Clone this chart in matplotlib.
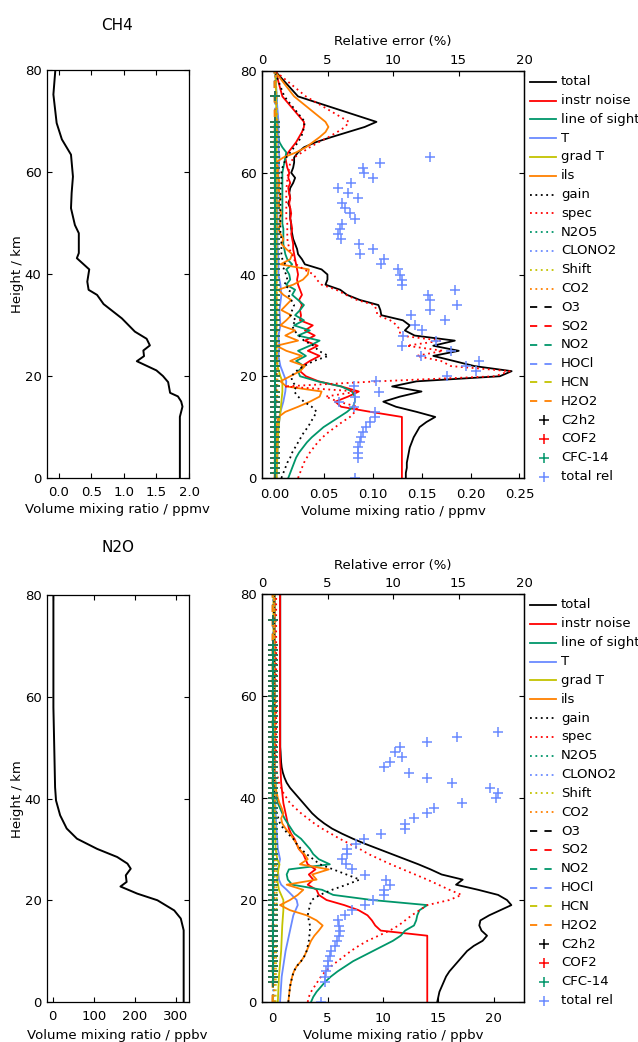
import matplotlib
matplotlib.use("Agg")
import matplotlib.pyplot as plt
from matplotlib.lines import Line2D

# ---------------- data ----------------
heights = list(range(0, 71)) + [75, 80]

# CH4 a-priori / retrieved profile (ppmv)
ch4_prof_h = [0, 12, 14, 15, 16, 16.7, 18.8, 20, 21.1, 22.9, 23.9, 25, 26, 27.3, 28.7, 30, 31.3,
              32.6, 34.1, 35.9, 36.9, 38.5, 40.9, 43.1, 44.1, 48, 49.6, 52.9, 55.9, 59.1, 63.4,
              66.4, 69.6, 75.2, 80]
ch4_prof_v = [1.86, 1.86, 1.90, 1.88, 1.83, 1.71, 1.68, 1.60, 1.50, 1.20, 1.31, 1.30, 1.40, 1.35,
              1.17, 1.07, 0.97, 0.84, 0.69, 0.59, 0.46, 0.44, 0.47, 0.28, 0.31, 0.31, 0.25, 0.19,
              0.20, 0.22, 0.19, 0.05, -0.03, -0.08, -0.05]

# N2O profile (ppbv)
n2o_prof_h = [0, 14.1, 16.4, 18, 20, 21.3, 22.7, 23.6, 24.9, 26.2, 27.2, 28.5, 30.1, 32.1, 34.1,
              36.7, 39.6, 42.2, 48.8, 57.9, 80]
n2o_prof_v = [319, 319, 312, 296, 255, 206, 165, 180, 178, 190, 182, 157, 108, 59, 34, 18, 8,
              5.7, 4, 1.6, 1.6]

# ---- CH4 error budget (ppmv) on heights grid ----
ch4_total = [0.134, 0.134, 0.135, 0.135, 0.136, 0.137, 0.138, 0.140, 0.142, 0.145, 0.148, 0.155,
             0.164, 0.145, 0.124, 0.111, 0.128, 0.150, 0.120, 0.145, 0.230, 0.242, 0.204, 0.183,
             0.162, 0.188, 0.162, 0.184, 0.143, 0.133, 0.138, 0.131, 0.109, 0.108, 0.106, 0.087,
             0.074, 0.067, 0.052, 0.054, 0.054, 0.048, 0.031, 0.028, 0.024, 0.023, 0.021, 0.019,
             0.018, 0.017, 0.017, 0.016, 0.016, 0.016, 0.014, 0.016, 0.015, 0.016, 0.019, 0.021,
             0.017, 0.019, 0.020, 0.020, 0.024, 0.030, 0.042, 0.058, 0.075, 0.092, 0.104, 0.024,
             0.0005]
ch4_noise = [0.130, 0.130, 0.130, 0.130, 0.130, 0.130, 0.130, 0.130, 0.130, 0.130, 0.130, 0.130,
             0.130, 0.098, 0.068, 0.062, 0.075, 0.086, 0.068, 0.045, 0.032, 0.026, 0.028, 0.036,
             0.046, 0.034, 0.044, 0.031, 0.041, 0.031, 0.039, 0.026, 0.027, 0.026, 0.028, 0.025,
             0.028, 0.026, 0.024, 0.023, 0.024, 0.023, 0.022, 0.021, 0.020, 0.019, 0.019, 0.018,
             0.017, 0.018, 0.017, 0.016, 0.017, 0.016, 0.015, 0.016, 0.015, 0.014, 0.016, 0.014,
             0.015, 0.013, 0.012, 0.011, 0.014, 0.018, 0.022, 0.025, 0.028, 0.030, 0.030, 0.008,
             0.001]
ch4_los = [0.014, 0.016, 0.018, 0.020, 0.022, 0.025, 0.029, 0.033, 0.038, 0.044, 0.050, 0.058,
           0.066, 0.074, 0.080, 0.082, 0.082, 0.079, 0.068, 0.044, 0.026, 0.024, 0.030, 0.022,
           0.032, 0.024, 0.036, 0.046, 0.024, 0.036, 0.020, 0.030, 0.021, 0.026, 0.030, 0.024,
           0.018, 0.021, 0.012, 0.016, 0.015, 0.012, 0.018, 0.013, 0.011, 0.010, 0.009, 0.009,
           0.009, 0.009, 0.008, 0.008, 0.008, 0.008, 0.008, 0.008, 0.008, 0.008, 0.008, 0.008,
           0.008, 0.009, 0.010, 0.011, 0.012, 0.008, 0.005, 0.004, 0.003, 0.003, 0.003, 0.002,
           0.001]
ch4_ils = [0.000, 0.001, 0.001, 0.001, 0.002, 0.002, 0.002, 0.002, 0.002, 0.002, 0.002, 0.003,
           0.004, 0.011, 0.024, 0.036, 0.046, 0.048, 0.012, 0.006, 0.016, 0.026, 0.031, 0.016,
           0.028, 0.012, 0.002, 0.024, 0.011, 0.021, 0.006, 0.012, 0.017, 0.007, 0.012, 0.017,
           0.009, 0.004, 0.019, 0.029, 0.034, 0.035, 0.006, 0.016, 0.018, 0.012, 0.007, 0.009,
           0.006, 0.004, 0.006, 0.005, 0.007, 0.005, 0.004, 0.006, 0.005, 0.004, 0.005, 0.004,
           0.003, 0.004, 0.001, 0.009, 0.022, 0.032, 0.039, 0.046, 0.052, 0.055, 0.052, 0.020,
           0.000]
ch4_gain = [0.007, 0.009, 0.011, 0.013, 0.016, 0.018, 0.021, 0.024, 0.027, 0.030, 0.034, 0.037,
            0.040, 0.043, 0.038, 0.030, 0.024, 0.020, 0.022, 0.018, 0.017, 0.022, 0.030, 0.040,
            0.055, 0.045, 0.040, 0.030, 0.025, 0.020, 0.018, 0.022, 0.016, 0.018, 0.020, 0.017,
            0.014, 0.016, 0.010, 0.013, 0.012, 0.009, 0.011, 0.008, 0.007, 0.007, 0.007, 0.007,
            0.006, 0.006, 0.006, 0.006, 0.006, 0.006, 0.006, 0.006, 0.006, 0.006, 0.007, 0.007,
            0.007, 0.008, 0.010, 0.012, 0.016, 0.020, 0.024, 0.027, 0.029, 0.030, 0.031, 0.010,
            0.000]
ch4_spec = [0.024, 0.026, 0.028, 0.030, 0.033, 0.036, 0.040, 0.044, 0.049, 0.055, 0.062, 0.069,
            0.077, 0.082, 0.085, 0.065, 0.052, 0.085, 0.010, 0.105, 0.225, 0.240, 0.180, 0.170,
            0.145, 0.172, 0.135, 0.170, 0.128, 0.128, 0.125, 0.118, 0.105, 0.104, 0.102, 0.084,
            0.073, 0.063, 0.048, 0.043, 0.040, 0.030, 0.022, 0.020, 0.018, 0.015, 0.014, 0.013,
            0.013, 0.013, 0.013, 0.012, 0.012, 0.012, 0.012, 0.012, 0.012, 0.012, 0.013, 0.013,
            0.014, 0.015, 0.016, 0.020, 0.028, 0.036, 0.045, 0.055, 0.064, 0.072, 0.076, 0.032,
            0.0005]
ch4_T_h = [0, 5, 10, 13, 15, 17, 19, 20, 21, 22, 24, 26, 28, 30, 33, 36, 38, 40, 43, 46, 50, 55,
           60, 63, 65, 70, 75, 80]
ch4_T = [0.002, 0.003, 0.004, 0.006, 0.009, 0.011, 0.012, 0.010, 0.008, 0.006, 0.004, 0.005,
         0.004, 0.006, 0.005, 0.007, 0.006, 0.004, 0.004, 0.003, 0.003, 0.003, 0.004, 0.005,
         0.004, 0.004, 0.002, 0.001]
ch4_gradT_h = [0, 5, 10, 13, 15, 17, 19, 20, 22, 25, 30, 40, 50, 60, 70, 80]
ch4_gradT = [0.002, 0.003, 0.004, 0.006, 0.007, 0.008, 0.008, 0.006, 0.003, 0.002, 0.002, 0.002,
             0.002, 0.002, 0.002, 0.001]
minor_h = [0, 20, 40, 60, 70, 80]
ch4_n2o5 = [0.001, 0.001, 0.001, 0.001, 0.001, 0.0005]
ch4_clono2 = [0.001, 0.001, 0.0008, 0.0008, 0.001, 0.0005]
ch4_shift = [0.002, 0.003, 0.002, 0.002, 0.003, 0.001]
ch4_co2 = [0.001, 0.002, 0.001, 0.001, 0.002, 0.0005]
ch4_o3 = [0.0005, 0.001, 0.0005, 0.0005, 0.0005, 0.0003]
ch4_so2 = [0.0003, 0.0005, 0.0003, 0.0003, 0.0003, 0.0002]
ch4_no2 = [0.0004, 0.0006, 0.0004, 0.0004, 0.0004, 0.0002]
ch4_hocl = [0.0004, 0.0006, 0.0004, 0.0004, 0.0004, 0.0002]
ch4_hcn = [0.0003, 0.0005, 0.0003, 0.0003, 0.0003, 0.0002]
ch4_h2o2 = [0.0002, 0.0003, 0.0002, 0.0002, 0.0002, 0.0001]
ch4_plus_h = [1, 2, 3, 4, 5, 6, 7, 8, 9, 10, 11, 12, 13, 14, 15, 16, 17, 18, 19, 20, 21, 22, 23,
              24, 25, 26, 27, 28, 29, 30, 31, 32, 33, 34, 35, 36, 37, 38, 39, 40, 41, 42, 43, 44,
              45, 46, 47, 48, 49, 50, 51, 52, 53, 54, 55, 56, 57, 58, 59, 60, 61, 62, 63, 64, 65,
              66, 67, 68, 69, 70, 75]
ch4_c2h2 = [0.0004, 0.0004, 0.0004, 0.0004, 0.0004, 0.0004, 0.0004, 0.0004, 0.0004, 0.0004,
            0.0004, 0.0004, 0.0004, 0.0004, 0.0004, 0.0004, 0.0004, 0.0004, 0.0004, 0.0004,
            0.0004, 0.0004, 0.0004, 0.0004, 0.0004, 0.0004, 0.0004, 0.0004, 0.0004, 0.0004,
            0.0004, 0.0004, 0.0004, 0.0004, 0.0004, 0.0004, 0.0004, 0.0004, 0.0004, 0.0004,
            0.0004, 0.0004, 0.0004, 0.0004, 0.0004, 0.0004, 0.0004, 0.0004, 0.0004, 0.0004,
            0.0004, 0.0004, 0.0004, 0.0004, 0.0004, 0.0004, 0.0004, 0.0004, 0.0004, 0.0004,
            0.0004, 0.0004, 0.0004, 0.0004, 0.0004, 0.0004, 0.0004, 0.0004, 0.0004, 0.0004,
            0.0004]
ch4_cof2 = list(ch4_c2h2)
ch4_cfc14 = list(ch4_c2h2)
ch4_rel_h = [0, 4, 5, 6, 7, 8, 9, 10, 11, 12, 13, 14, 15, 16, 17, 18, 19, 20, 21, 22, 23, 24, 25,
             26, 27, 28, 29, 30, 31, 32, 33, 34, 35, 36, 37, 38, 39, 40, 41, 42, 43, 44, 45, 46,
             47, 48, 49, 50, 51, 52, 53, 54, 55, 56, 57, 58, 59, 60, 61, 62, 63]
ch4_rel = [7.1, 7.3, 7.3, 7.35, 7.45, 7.55, 7.7, 7.95, 8.25, 8.6, 8.6, 7.0, 5.9, 7.1, 8.9, 7.0,
           8.7, 14.1, 16.3, 15.6, 16.6, 12.1, 14.4, 10.7, 13.3, 10.8, 12.2, 11.7, 14.0, 11.4,
           12.8, 14.9, 12.8, 12.7, 14.7, 10.7, 10.7, 10.5, 10.4, 9.1, 9.3, 7.5, 8.5, 7.4, 6.0,
           5.8, 5.95, 6.1, 7.1, 6.7, 6.3, 6.1, 7.3, 6.6, 5.8, 6.8, 8.5, 7.8, 7.7, 9.0, 12.8]

# ---- N2O error budget (ppbv) on heights grid ----
n2o_total = [14.9, 15.0, 15.1, 15.3, 15.5, 15.7, 16.0, 16.4, 16.8, 17.2, 17.6, 18.2, 19.0, 19.4,
             18.9, 18.7, 18.8, 19.6, 20.6, 21.6, 21.2, 20.4, 18.6, 16.6, 17.2, 15.3, 14.3, 13.2,
             12.0, 10.8, 9.6, 8.4, 7.3, 6.3, 5.4, 4.7, 4.1, 3.6, 3.2, 2.8, 2.4, 2.0, 1.6, 1.3,
             1.1, 0.95, 0.85, 0.8, 0.77, 0.75, 0.72, 0.72, 0.72, 0.72, 0.72, 0.72, 0.72, 0.72,
             0.72, 0.72, 0.72, 0.72, 0.72, 0.72, 0.72, 0.72, 0.72, 0.72, 0.72, 0.72, 0.72, 0.72,
             0.72]
n2o_noise = [14.0, 14.0, 14.0, 14.0, 14.0, 14.0, 14.0, 14.0, 14.0, 14.0, 14.0, 14.0, 14.0, 14.0,
             9.8, 9.3, 9.0, 8.6, 7.8, 6.5, 4.9, 4.2, 4.0, 3.2, 3.7, 3.3, 3.9, 3.2, 3.0, 2.8, 2.4,
             2.2, 2.0, 1.7, 1.5, 1.4, 1.3, 1.2, 1.1, 1.0, 0.95, 0.9, 0.85, 0.8, 0.78, 0.76, 0.74,
             0.72, 0.7, 0.7, 0.7, 0.7, 0.7, 0.7, 0.7, 0.7, 0.7, 0.7, 0.7, 0.7, 0.7, 0.7, 0.7,
             0.7, 0.7, 0.7, 0.7, 0.7, 0.7, 0.7, 0.7, 0.7, 0.7]
n2o_los = [3.5, 3.7, 4.0, 4.4, 4.8, 5.3, 5.9, 6.6, 7.3, 8.2, 9.1, 10.0, 10.9, 11.6, 12.0, 12.8,
           13.0, 13.1, 13.3, 14.0, 9.0, 5.5, 4.5, 1.8, 1.4, 1.3, 1.5, 5.2, 4.2, 3.7, 3.4, 3.0,
           2.6, 2.0, 1.7, 1.4, 1.1, 0.9, 0.7, 0.5, 0.4, 0.35, 0.3, 0.3, 0.25, 0.25, 0.25, 0.25,
           0.25, 0.25, 0.25, 0.25, 0.25, 0.25, 0.25, 0.25, 0.25, 0.25, 0.25, 0.25, 0.25, 0.25,
           0.25, 0.25, 0.25, 0.25, 0.25, 0.25, 0.25, 0.25, 0.25, 0.25, 0.25]
n2o_ils = [1.45, 1.5, 1.55, 1.6, 1.7, 1.8, 1.95, 2.2, 2.6, 2.9, 3.1, 3.3, 3.5, 3.8, 4.2, 4.55,
           4.0, 3.1, 1.6, 0.7, 1.6, 2.3, 2.8, 1.3, 4.0, 3.6, 5.1, 2.5, 3.2, 2.9, 2.4, 2.2, 1.9,
           1.6, 1.2, 0.9, 0.8, 1.0, 0.85, 0.65, 0.5, 0.4, 0.3, 0.25, 0.2, 0.2, 0.2, 0.2, 0.2,
           0.2, 0.2, 0.2, 0.2, 0.2, 0.2, 0.2, 0.2, 0.2, 0.2, 0.2, 0.2, 0.2, 0.2, 0.2, 0.2, 0.2,
           0.2, 0.2, 0.2, 0.2, 0.2, 0.2, 0.2]
n2o_gain = [1.45, 1.5, 1.55, 1.6, 1.7, 1.8, 1.95, 2.2, 2.6, 2.9, 3.1, 3.2, 3.3, 3.35, 3.4, 3.4,
            3.3, 3.2, 3.3, 3.4, 3.55, 4.3, 5.4, 6.7, 7.9, 6.7, 5.5, 4.3, 3.7, 3.1, 2.6, 2.2, 1.9,
            1.4, 1.0, 0.7, 0.55, 0.4, 0.25, 0.2, 0.2, 0.15, 0.15, 0.15, 0.15, 0.15, 0.15, 0.15,
            0.15, 0.15, 0.15, 0.15, 0.15, 0.15, 0.15, 0.15, 0.15, 0.15, 0.15, 0.15, 0.15, 0.15,
            0.15, 0.15, 0.15, 0.15, 0.15, 0.15, 0.15, 0.15, 0.15, 0.15, 0.15]
n2o_spec = [3.2, 3.3, 3.5, 3.8, 4.1, 4.4, 4.8, 5.3, 5.9, 6.5, 7.1, 7.8, 8.6, 9.6, 10.6, 11.4,
            12.0, 12.6, 13.3, 14.0, 16.0, 17.1, 16.0, 15.0, 14.0, 12.9, 11.8, 10.7, 9.7, 8.7,
            7.9, 7.0, 6.1, 5.3, 4.5, 3.8, 3.2, 2.6, 2.1, 1.6, 1.3, 1.0, 0.8, 0.6, 0.5, 0.4, 0.4,
            0.35, 0.35, 0.35, 0.35, 0.35, 0.35, 0.35, 0.35, 0.35, 0.35, 0.35, 0.35, 0.35, 0.35,
            0.35, 0.35, 0.35, 0.35, 0.35, 0.35, 0.35, 0.35, 0.35, 0.35, 0.35, 0.35]
n2o_T_h = [0, 5, 10, 14, 17, 19, 20, 22, 23, 24, 26, 28, 30, 35, 40, 50, 60, 70, 80]
n2o_T = [0.7, 0.85, 1.2, 1.6, 1.9, 2.3, 2.2, 1.3, 0.8, 0.6, 0.5, 0.7, 0.5, 0.35, 0.25, 0.2, 0.2,
         0.2, 0.2]
n2o_gradT_h = [0, 5, 10, 15, 18, 20, 22, 24, 26, 27, 28, 30, 35, 40, 60, 80]
n2o_gradT = [0.5, 0.6, 0.8, 0.9, 1.0, 1.0, 0.6, 0.45, 0.55, 0.65, 0.45, 0.3, 0.2, 0.15, 0.1, 0.1]
n2o_n2o5 = [0.1, 0.15, 0.1, 0.1, 0.1, 0.1]
n2o_clono2 = [0.1, 0.15, 0.1, 0.1, 0.1, 0.1]
n2o_shift = [0.3, 0.4, 0.25, 0.2, 0.2, 0.2]
n2o_co2 = [0.15, 0.2, 0.15, 0.15, 0.15, 0.15]
n2o_o3 = [0.05, 0.08, 0.05, 0.05, 0.05, 0.05]
n2o_so2 = [0.05, 0.05, 0.05, 0.05, 0.05, 0.05]
n2o_no2 = [0.05, 0.08, 0.05, 0.05, 0.05, 0.05]
n2o_hocl = [0.05, 0.06, 0.05, 0.05, 0.05, 0.05]
n2o_hcn = [0.05, 0.06, 0.05, 0.05, 0.05, 0.05]
n2o_h2o2 = [0.02, 0.03, 0.02, 0.02, 0.02, 0.02]
n2o_plus_h = [4, 5, 6, 7, 8, 9, 10, 11, 12, 13, 14, 15, 16, 17, 18, 19, 20, 21, 22, 23, 24, 25,
              26, 27, 28, 29, 30, 31, 32, 33, 34, 35, 36, 37, 38, 39, 40, 41, 42, 43, 44, 45, 46,
              47, 48, 49, 50, 51, 52, 53, 54, 55, 56, 57, 58, 59, 60, 61, 62, 63, 64, 65, 66, 67,
              68, 69, 70, 75]
n2o_c2h2 = [0.1, 0.1, 0.1, 0.1, 0.1, 0.1, 0.1, 0.1, 0.1, 0.1, 0.1, 0.1, 0.1, 0.1, 0.1, 0.1, 0.1,
            0.1, 0.1, 0.1, 0.1, 0.1, 0.1, 0.1, 0.1, 0.1, 0.1, 0.1, 0.1, 0.1, 0.1, 0.1, 0.1, 0.1,
            0.1, 0.1, 0.1, 0.1, 0.1, 0.1, 0.1, 0.1, 0.1, 0.1, 0.1, 0.1, 0.1, 0.1, 0.1, 0.1, 0.1,
            0.1, 0.1, 0.1, 0.1, 0.1, 0.1, 0.1, 0.1, 0.1, 0.1, 0.1, 0.1, 0.1, 0.1, 0.1, 0.1, 0.1]
n2o_cof2 = list(n2o_c2h2)
n2o_cfc14 = list(n2o_c2h2)
n2o_rel_h = [0, 4, 5, 6, 7, 8, 9, 10, 11, 12, 13, 14, 15, 16, 17, 18, 19, 20, 21, 22, 23, 24, 25,
             26, 27, 28, 29, 30, 31, 32, 33, 34, 35, 36, 37, 38, 39, 40, 41, 42, 43, 44, 45, 46,
             47, 48, 49, 50, 51, 52, 53]
n2o_rel = [4.5, 4.8, 4.8, 4.9, 5.0, 5.05, 5.2, 5.3, 5.6, 5.7, 5.9, 5.95, 5.9, 5.8, 6.3, 6.85,
           7.85, 8.5, 9.3, 9.3, 9.8, 9.5, 7.9, 6.85, 6.4, 6.1, 6.5, 6.5, 7.2, 7.8, 9.1, 10.9,
           10.95, 11.6, 12.6, 13.1, 15.3, 17.9, 18.0, 17.4, 14.5, 12.6, 11.2, 9.3, 9.8, 10.7,
           10.15, 10.5, 12.6, 14.9, 18.0]

legend_labels = ["total", "instr noise", "line of sight", "T", "grad T", "ils", "gain", "spec",
                 "N2O5", "CLONO2", "Shift", "CO2", "O3", "SO2", "NO2", "HOCl", "HCN", "H2O2",
                 "C2h2", "COF2", "CFC-14", "total rel"]

# ---------------- style ----------------
BLACK = "#000000"
RED = "#ff0000"
GREEN = "#00966a"
BLUE = "#6a8aff"
YELLOW = "#c3c300"
ORANGE = "#ff8000"
cycle = [BLACK, RED, GREEN, BLUE, YELLOW, ORANGE]
styles = (["-"] * 6 + [(0, (1, 2))] * 6 + [(0, (4, 4))] * 6 + ["+"] * 4)
colors = cycle + cycle + cycle + [BLACK, RED, GREEN, BLUE]

W, H = 638, 1042
fig = plt.figure(figsize=(W / 100, H / 100), dpi=100)
FS = 9.5
LW = 1.3


def rect(l, t, r, b):
    return [l / W, 1 - b / H, (r - l) / W, (b - t) / H]


def style_axes(ax):
    for s in ax.spines.values():
        s.set_linewidth(0.9)
    ax.tick_params(direction="in", length=3.5, width=0.8, labelsize=FS, pad=4)


def profile_panel(box, h, v, xlim, xticks, xfmt):
    ax = fig.add_axes(rect(*box))
    ax.plot(v, h, color=BLACK, lw=1.4)
    ax.set_xlim(*xlim)
    ax.set_ylim(0, 80)
    ax.set_yticks([0, 20, 40, 60, 80])
    ax.set_xticks(xticks)
    ax.set_xticklabels([xfmt.format(t) for t in xticks])
    style_axes(ax)
    ax.tick_params(top=True, right=True)
    ax.tick_params(axis="x", pad=6)
    return ax


def error_panel(box, xlim, xticks, xfmt, series, minor, plus_h, plus_vals, rel_h, rel):
    ax = fig.add_axes(rect(*box))
    main_styles = ["-"] * 6 + [(0, (1, 2))] * 2
    main_cols = [BLACK, RED, GREEN, BLUE, YELLOW, ORANGE, BLACK, RED]
    for (hh, vv), ls, c in zip(series, main_styles, main_cols):
        ax.plot(vv, hh, color=c, ls=ls, lw=LW)
    minor_styles = [(0, (1, 2))] * 4 + [(0, (4, 4))] * 6
    minor_cols = [GREEN, BLUE, YELLOW, ORANGE, BLACK, RED, GREEN, BLUE, YELLOW, ORANGE]
    for vv, ls, c in zip(minor, minor_styles, minor_cols):
        ax.plot(vv, minor_h, color=c, ls=ls, lw=LW)
    for vv, c in zip(plus_vals, [BLACK, RED, GREEN]):
        ax.plot(vv, plus_h, ls="none", marker="+", ms=7, mew=1.1, color=c)
    ax.set_xlim(*xlim)
    ax.set_ylim(0, 80)
    ax.set_yticks([0, 20, 40, 60, 80])
    ax.set_xticks(xticks)
    ax.set_xticklabels([xfmt.format(t) for t in xticks])
    style_axes(ax)
    ax.tick_params(right=True)
    ax.tick_params(axis="x", pad=7)
    top = ax.twiny()
    top.plot(rel, rel_h, ls="none", marker="+", ms=7, mew=1.1, color=BLUE)
    top.set_xlim(0, 20)
    top.set_xticks([0, 5, 10, 15, 20])
    style_axes(top)
    top.tick_params(axis="x", pad=3)
    return ax


def legend_block(y0, dy):
    for i, (lab, ls, c) in enumerate(zip(legend_labels, styles, colors)):
        y = 1 - (y0 + i * dy) / H
        if ls == "+":
            fig.lines.append(Line2D([544 / W], [y], ls="none", marker="+", ms=7, mew=1.1,
                                    color=c, transform=fig.transFigure))
        else:
            fig.lines.append(Line2D([530 / W, 556 / W], [y, y], ls=ls, lw=LW, color=c,
                                    transform=fig.transFigure))
        fig.text(561 / W, y, lab, fontsize=FS, va="center", ha="left")


# ---------------- CH4 ----------------
profile_panel((47, 70, 189, 478), ch4_prof_h, ch4_prof_v, (-0.178, 2.0),
              [0.0, 0.5, 1.0, 1.5, 2.0], "{:.1f}")
fig.text(117 / W, 1 - 25 / H, "CH4", fontsize=11, ha="center", va="center")
fig.text(117 / W, 1 - 509 / H, "Volume mixing ratio / ppmv", fontsize=FS, ha="center", va="center")
fig.text(18 / W, 1 - 274 / H, "Height / km", fontsize=FS, ha="center", va="center", rotation=90)

ch4_series = [(heights, ch4_total), (heights, ch4_noise), (heights, ch4_los), (ch4_T_h, ch4_T),
              (ch4_gradT_h, ch4_gradT), (heights, ch4_ils), (heights, ch4_gain),
              (heights, ch4_spec)]
ch4_minor = [ch4_n2o5, ch4_clono2, ch4_shift, ch4_co2, ch4_o3, ch4_so2, ch4_no2, ch4_hocl,
             ch4_hcn, ch4_h2o2]
error_panel((262, 71, 524, 478), (-0.0128, 0.2546), [0.0, 0.05, 0.10, 0.15, 0.20, 0.25], "{:.2f}",
            ch4_series, ch4_minor, ch4_plus_h, [ch4_c2h2, ch4_cof2, ch4_cfc14], ch4_rel_h, ch4_rel)
fig.text(393 / W, 1 - 41 / H, "Relative error (%)", fontsize=FS, ha="center", va="center")
fig.text(393 / W, 1 - 512 / H, "Volume mixing ratio / ppmv", fontsize=FS, ha="center", va="center")
legend_block(81.7, 18.8)

# ---------------- N2O ----------------
profile_panel((47, 595, 189, 1002), n2o_prof_h, n2o_prof_v, (-14, 332), [0, 100, 200, 300], "{:d}")
fig.text(118 / W, 1 - 548 / H, "N2O", fontsize=11, ha="center", va="center")
fig.text(117 / W, 1 - 1035 / H, "Volume mixing ratio / ppbv", fontsize=FS, ha="center", va="center")
fig.text(18 / W, 1 - 799 / H, "Height / km", fontsize=FS, ha="center", va="center", rotation=90)

n2o_series = [(heights, n2o_total), (heights, n2o_noise), (heights, n2o_los), (n2o_T_h, n2o_T),
              (n2o_gradT_h, n2o_gradT), (heights, n2o_ils), (heights, n2o_gain),
              (heights, n2o_spec)]
n2o_minor = [n2o_n2o5, n2o_clono2, n2o_shift, n2o_co2, n2o_o3, n2o_so2, n2o_no2, n2o_hocl,
             n2o_hcn, n2o_h2o2]
error_panel((262, 594, 524, 1002), (-0.93, 22.74), [0, 5, 10, 15, 20], "{:d}",
            n2o_series, n2o_minor, n2o_plus_h, [n2o_c2h2, n2o_cof2, n2o_cfc14], n2o_rel_h, n2o_rel)
fig.text(393 / W, 1 - 565 / H, "Relative error (%)", fontsize=FS, ha="center", va="center")
fig.text(393 / W, 1 - 1035 / H, "Volume mixing ratio / ppbv", fontsize=FS, ha="center", va="center")
legend_block(605, 18.84)

fig.savefig("out.png", dpi=100)
